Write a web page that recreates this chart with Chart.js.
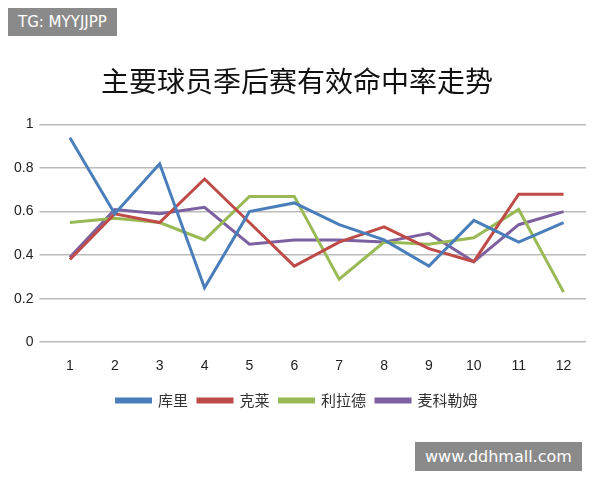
<!DOCTYPE html>
<html>
<head>
<meta charset="utf-8">
<script src="https://cdn.jsdelivr.net/npm/chart.js@4"></script>
<style>
  body { margin: 0; background: #fff; }
  #wrap { position: relative; width: 600px; height: 480px; }
  #tag { position: absolute; left: 8px; top: 8px; background: #8a8a8a; color: #fff;
         font: 15px "DejaVu Sans", sans-serif; padding: 5px 10px; }
  #site { position: absolute; left: 415px; top: 442px; background: #8a8a8a; color: #fff;
          font: 16px "DejaVu Sans", sans-serif; padding: 5px 10px; }
</style>
</head>
<body>
<div id="wrap">
  <canvas id="c" width="600" height="480"></canvas>
  <div id="tag">TG: MYYJJPP</div>
  <div id="site">www.ddhmall.com</div>
</div>
<script>
const games = ["1", "2", "3", "4", "5", "6", "7", "8", "9", "10", "11", "12"];
const curry = [0.94, 0.59, 0.82, 0.25, 0.60, 0.64, 0.54, 0.47, 0.35, 0.56, 0.46, 0.55];
const klay = [0.38, 0.59, 0.55, 0.75, 0.55, 0.35, 0.46, 0.53, 0.43, 0.37, 0.68, 0.68];
const lillard = [0.55, 0.57, 0.55, 0.47, 0.67, 0.67, 0.29, 0.46, 0.45, 0.48, 0.61, 0.23];
const mccollum = [0.39, 0.61, 0.59, 0.62, 0.45, 0.47, 0.47, 0.46, 0.50, 0.37, 0.54, 0.60];

function line(label, data, color) {
    return { label: label, data: data, borderColor: color, backgroundColor: color,
             borderWidth: 3, pointRadius: 0, tension: 0 };
}

new Chart(document.getElementById("c"), {
    type: "line",
    data: {
        labels: games,
        datasets: [
            line("库里", curry, "#4a7ebb"),
            line("克莱", klay, "#be4b48"),
            line("利拉德", lillard, "#98b954"),
            line("麦科勒姆", mccollum, "#7d60a0")
        ]
    },
    options: {
        responsive: false,
        animation: false,
        layout: { padding: { left: 8, right: 14, top: 55, bottom: 62 } },
        plugins: {
            title: {
                display: true,
                text: "主要球员季后赛有效命中率走势",
                color: "#111",
                font: { family: "Noto Sans CJK SC", size: 28, weight: "normal" },
                padding: { top: 10, bottom: 26 }
            },
            legend: {
                position: "bottom",
                labels: { boxWidth: 34, boxHeight: 3, color: "#333",
                          font: { family: "Noto Sans CJK SC", size: 15 }, padding: 10 }
            }
        },
        scales: {
            x: {
                offset: true,
                grid: { display: false },
                border: { display: false },
                ticks: { color: "#222", font: { size: 14 }, padding: 8 }
            },
            y: {
                min: 0, max: 1,
                ticks: { stepSize: 0.2, color: "#222", font: { size: 14 }, padding: 6,
                         callback: v => String(Math.round(v * 10) / 10) },
                grid: { color: "#bbb", lineWidth: 1.5 },
                border: { display: false }
            }
        }
    }
});
</script>
</body>
</html>
